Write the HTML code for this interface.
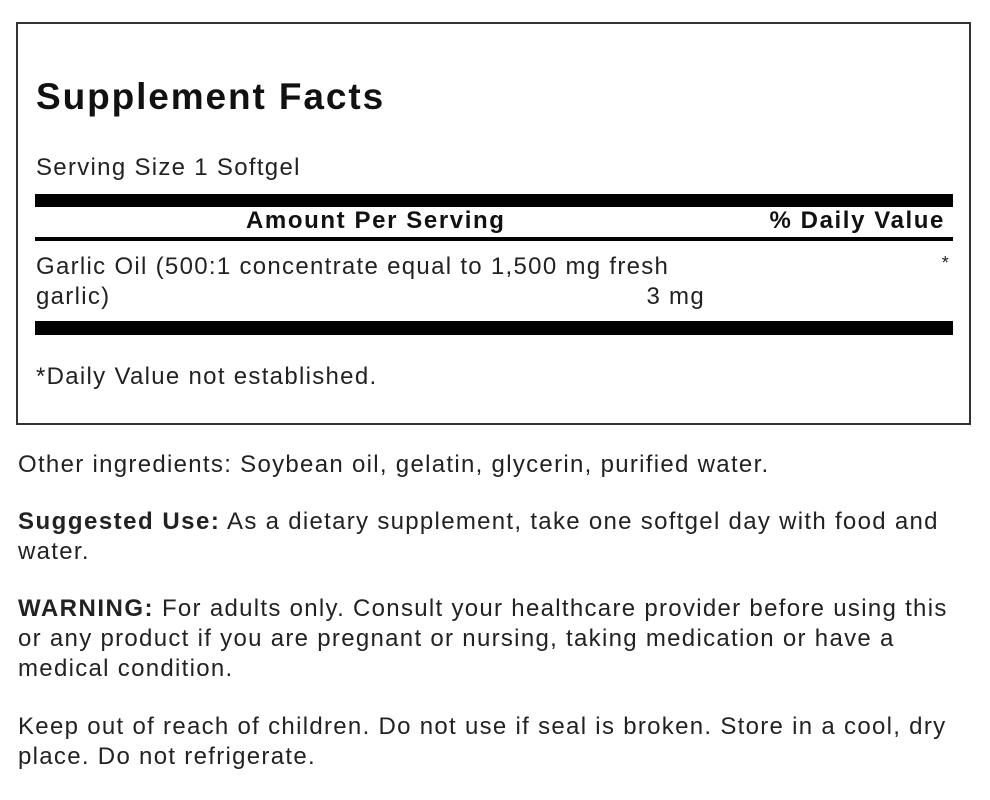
<!DOCTYPE html>
<html><head><style>
body{margin:0;width:990px;height:800px;background:#fff;font-family:"Liberation Sans",Arial,sans-serif;color:#222;position:relative;overflow:hidden}
.a{position:absolute;white-space:nowrap}
.t{font-size:24px;line-height:30px;letter-spacing:1.3px}
.t b{letter-spacing:1.5px}
.bar{position:absolute;left:35px;width:918px;background:#000}
</style></head><body>
<div class="a" style="left:16px;top:22px;width:951px;height:399px;border:2px solid #333"></div>
<div class="a" style="left:36px;top:76px;font-size:37px;font-weight:bold;color:#111;letter-spacing:1.9px">Supplement Facts</div>
<div class="a t" style="left:36px;top:153px">Serving Size 1 Softgel</div>
<div class="bar" style="top:194px;height:13px"></div>
<div class="a t" style="left:246px;top:206px;font-weight:bold;color:#111;letter-spacing:1.6px">Amount Per Serving</div>
<div class="a t" style="right:45px;top:206px;font-weight:bold;color:#111;letter-spacing:1.6px">% Daily Value</div>
<div class="bar" style="top:237px;height:4px"></div>
<div class="a t" style="left:36px;top:252px">Garlic Oil (500:1 concentrate equal to 1,500 mg fresh</div>
<div class="a t" style="left:36px;top:282px">garlic)</div>
<div class="a t" style="right:285px;top:282px">3 mg</div>
<div class="a t" style="right:40px;top:248px;font-size:18px">*</div>
<div class="bar" style="top:321px;height:14px"></div>
<div class="a t" style="left:36px;top:362px">*Daily Value not established.</div>
<div class="a t" style="left:18px;top:450px">Other ingredients: Soybean oil, gelatin, glycerin, purified water.</div>
<div class="a t" style="left:18px;top:507px"><b>Suggested Use:</b> As a dietary supplement, take one softgel day with food and<br>water.</div>
<div class="a t" style="left:18px;top:594px"><b>WARNING:</b> For adults only. Consult your healthcare provider before using this<br>or any product if you are pregnant or nursing, taking medication or have a<br>medical condition.</div>
<div class="a t" style="left:18px;top:712px">Keep out of reach of children. Do not use if seal is broken. Store in a cool, dry<br>place. Do not refrigerate.</div>
</body></html>
